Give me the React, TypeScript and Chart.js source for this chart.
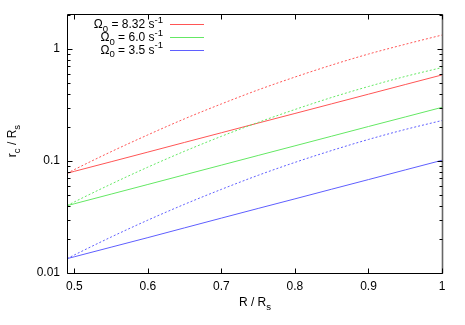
import React, { useEffect, useRef } from "react";
import { Chart, registerables } from "chart.js";

Chart.register(...registerables);

const xValues = [0.49, 0.5, 0.55, 0.6, 0.65, 0.7, 0.75, 0.8, 0.85, 0.9, 0.95, 1.0];

const redSolid = [0.0776, 0.0808, 0.0984, 0.12, 0.1465, 0.1786, 0.218, 0.2655, 0.3236, 0.3945, 0.481, 0.586];
const greenSolid = [0.0399, 0.0415, 0.0506, 0.0617, 0.0753, 0.0918, 0.112, 0.1365, 0.1664, 0.203, 0.247, 0.301];
const blueSolid = [0.01343, 0.01396, 0.017, 0.0207, 0.0253, 0.0309, 0.0377, 0.0459, 0.056, 0.0682, 0.0832, 0.1014];

const redDotted = [0.0776, 0.0838, 0.121, 0.171, 0.238, 0.323, 0.431, 0.561, 0.718, 0.9, 1.1, 1.33];
const greenDotted = [0.0399, 0.0431, 0.0622, 0.0881, 0.1222, 0.166, 0.221, 0.288, 0.369, 0.462, 0.568, 0.682];
const blueDotted = [0.01343, 0.01449, 0.02094, 0.02965, 0.0411, 0.0558, 0.0745, 0.0971, 0.124, 0.1556, 0.191, 0.2296];

const legendValues = ["8.32", "6.0", "3.5"];

const xTicks = [0.5, 0.6, 0.7, 0.8, 0.9, 1.0];
const xTickLabels = ["0.5", "0.6", "0.7", "0.8", "0.9", "1"];
const yTicks = [0.01, 0.1, 1];
const yTickLabels = ["0.01", "0.1", "1"];

const RED = "rgb(255,85,85)";
const GREEN = "rgb(100,232,100)";
const BLUE = "rgb(95,95,255)";

const FONT = "Liberation Sans, Arial, sans-serif";

type Part = { t: string; sub?: boolean; sup?: boolean };

function richWidth(ctx: CanvasRenderingContext2D, parts: Part[], size: number) {
  let w = 0;
  for (const p of parts) {
    const s = p.sub || p.sup ? size * 0.8 : size;
    ctx.font = `${s}px ${FONT}`;
    w += ctx.measureText(p.t).width;
  }
  return w;
}

function drawRich(
  ctx: CanvasRenderingContext2D,
  parts: Part[],
  x: number,
  y: number,
  size: number,
  align: "left" | "right" | "center"
) {
  const w = richWidth(ctx, parts, size);
  let cx = align === "left" ? x : align === "right" ? x - w : x - w / 2;
  ctx.textBaseline = "alphabetic";
  ctx.textAlign = "left";
  const base = y + size * 0.35;
  for (const p of parts) {
    const s = p.sub || p.sup ? size * 0.8 : size;
    ctx.font = `${s}px ${FONT}`;
    let yy = base;
    if (p.sub) yy = base + size * 0.3;
    if (p.sup) yy = base - size * 0.45;
    ctx.fillText(p.t, cx, yy);
    cx += ctx.measureText(p.t).width;
  }
}

const framePlugin = {
  id: "gnuframe",
  afterDraw(chart: any) {
    const ctx: CanvasRenderingContext2D = chart.ctx;
    const { left, right, top, bottom } = chart.chartArea;
    const xs = chart.scales.x;
    const ys = chart.scales.y;
    ctx.save();
    ctx.strokeStyle = "#000";
    ctx.lineWidth = 1;
    const L = Math.round(left) + 0.5;
    const R = Math.round(right) + 0.5;
    const T = Math.round(top) + 0.5;
    const B = Math.round(bottom) + 0.5;
    ctx.beginPath();
    ctx.moveTo(R, T);
    ctx.lineTo(L, T);
    ctx.lineTo(L, B);
    ctx.lineTo(R, B);
    ctx.stroke();
    ctx.strokeStyle = "#666";
    ctx.lineWidth = 1.6;
    ctx.beginPath();
    ctx.moveTo(R, T);
    ctx.lineTo(R, B);
    ctx.stroke();

    ctx.strokeStyle = "#000";
    ctx.lineWidth = 1;
    ctx.beginPath();
    for (const v of xTicks) {
      const px = Math.round(xs.getPixelForValue(v)) + 0.5;
      ctx.moveTo(px, B);
      ctx.lineTo(px, B - 5);
      ctx.moveTo(px, T);
      ctx.lineTo(px, T + 5);
    }
    const yMax = ys.max;
    for (let dec = 0.01; dec <= 1.0001; dec *= 10) {
      for (let m = 1; m <= 9; m++) {
        const v = dec * m;
        if (v > yMax) break;
        const py = Math.round(ys.getPixelForValue(v)) + 0.5;
        const len = m === 1 ? 5 : 3;
        ctx.moveTo(L, py);
        ctx.lineTo(L + len, py);
        ctx.moveTo(R, py);
        ctx.lineTo(R - len, py);
      }
    }
    ctx.stroke();

    ctx.fillStyle = "#000";
    ctx.font = `12px ${FONT}`;
    ctx.textAlign = "center";
    ctx.textBaseline = "middle";
    xTicks.forEach((v, i) => {
      ctx.fillText(xTickLabels[i], xs.getPixelForValue(v), bottom + 14);
    });
    ctx.textAlign = "right";
    yTicks.forEach((v, i) => {
      ctx.fillText(yTickLabels[i], left - 7, ys.getPixelForValue(v));
    });

    drawRich(ctx, [{ t: "R / R" }, { t: "s", sub: true }], 255, 302, 12, "center");
    ctx.save();
    ctx.translate(12, 141);
    ctx.rotate(-Math.PI / 2);
    drawRich(ctx, [{ t: "r" }, { t: "c", sub: true }, { t: " / R" }, { t: "s", sub: true }], 0, 0, 12, "center");
    ctx.restore();

    const colors = [RED, GREEN, BLUE];
    const rows = [24, 37, 49.5];
    legendValues.forEach((val, i) => {
      ctx.fillStyle = "#000";
      drawRich(
        ctx,
        [{ t: "\u03A9" }, { t: "0", sub: true }, { t: ` = ${val} s` }, { t: "-1", sup: true }],
        163,
        rows[i],
        12,
        "right"
      );
      ctx.strokeStyle = colors[i];
      ctx.lineWidth = 1;
      ctx.setLineDash([]);
      ctx.beginPath();
      ctx.moveTo(170, Math.round(rows[i]) + 0.5);
      ctx.lineTo(204, Math.round(rows[i]) + 0.5);
      ctx.stroke();
    });
    ctx.restore();
  },
};

function mk(label: string, ys: number[], color: string, dotted: boolean) {
  return {
    label,
    data: xValues.map((x, i) => ({ x, y: ys[i] })),
    borderColor: color,
    backgroundColor: color,
    borderWidth: 1,
    borderDash: dotted ? [2, 2] : [],
    pointRadius: 0,
    fill: false,
    cubicInterpolationMode: "monotone" as const,
  };
}

export default function App() {
  const ref = useRef<HTMLCanvasElement | null>(null);
  useEffect(() => {
    if (!ref.current) return;
    const chart = new Chart(ref.current, {
      type: "line",
      data: {
        datasets: [
          mk("red dotted", redDotted, RED, true),
          mk("green dotted", greenDotted, GREEN, true),
          mk("blue dotted", blueDotted, BLUE, true),
          mk("red", redSolid, RED, false),
          mk("green", greenSolid, GREEN, false),
          mk("blue", blueSolid, BLUE, false),
        ],
      },
      options: {
        animation: false,
        responsive: false,
        devicePixelRatio: 1,
        layout: { padding: { left: 67, right: 23, top: 14, bottom: 52 } },
        plugins: { legend: { display: false }, tooltip: { enabled: false } },
        scales: {
          x: { type: "linear", min: 0.49, max: 1.0, display: false },
          y: { type: "logarithmic", min: 0.01, max: 2.05, display: false },
        },
      },
      plugins: [framePlugin],
    });
    return () => chart.destroy();
  }, []);
  return (
    <div style={{ position: "fixed", left: 0, top: 0, width: 465, height: 325, background: "#fff" }}>
      <canvas ref={ref} width={465} height={325} style={{ width: 465, height: 325 }} />
    </div>
  );
}
